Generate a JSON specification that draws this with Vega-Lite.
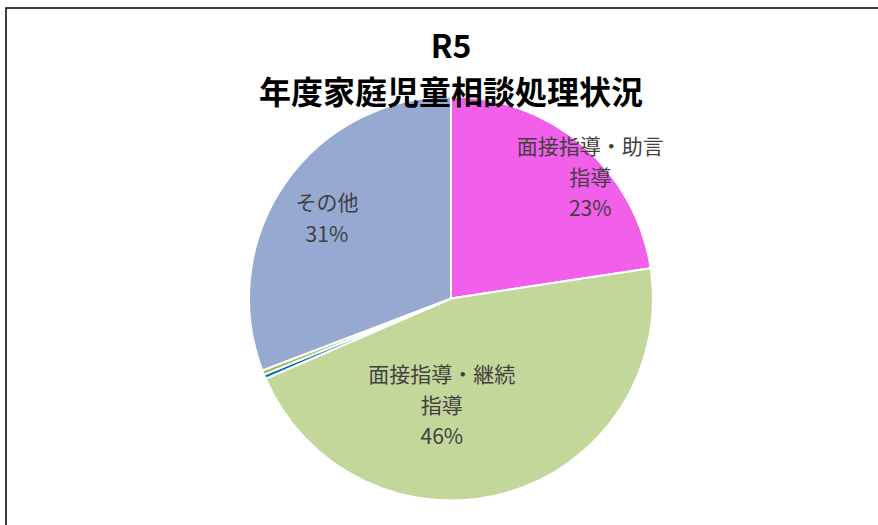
{
  "$schema": "https://vega.github.io/schema/vega-lite/v6.json",
  "autosize": "none",
  "width": 890,
  "height": 581,
  "padding": {"left": 6, "top": 8, "right": 0, "bottom": 0},
  "background": "white",
  "view": {"stroke": "#000000", "strokeWidth": 1.5, "fill": "white"},
  "config": {
    "font": "Noto Sans CJK JP"
  },
  "title": {
    "text": ["R5", "年度家庭児童相談処理状況"],
    "fontSize": 32,
    "fontWeight": "bold",
    "font": "Noto Sans CJK JP",
    "color": "#000000",
    "lineHeight": 46,
    "baseline": "top",
    "offset": -103,
    "anchor": "middle",
    "frame": "group"
  },
  "data": {
    "values": [
      {"category": "面接指導・助言指導", "label": "面接指導・助言\n指導\n23%", "value": 22.6, "n": 1},
      {"category": "面接指導・継続指導", "label": "面接指導・継続\n指導\n46%", "value": 45.9, "n": 2},
      {"category": "児童相談所送致", "label": "", "value": 0.35, "n": 3},
      {"category": "他機関送致", "label": "", "value": 0.35, "n": 4},
      {"category": "その他", "label": "その他\n31%", "value": 30.8, "n": 5}
    ]
  },
  "encoding": {
    "theta": {"field": "value", "type": "quantitative", "stack": true},
    "order": {"field": "n", "type": "quantitative"},
    "color": {
      "field": "category",
      "type": "nominal",
      "legend": null,
      "sort": null,
      "scale": {
        "domain": ["面接指導・助言指導", "面接指導・継続指導", "児童相談所送致", "他機関送致", "その他"],
        "range": ["#F25FEB", "#C4D79B", "#0070C0", "#9BBB59", "#95A9D1"]
      }
    }
  },
  "layer": [
    {"mark": {"type": "arc", "radius": 202, "stroke": "white", "strokeWidth": 2}},
    {
      "mark": {"type": "text", "radius": 160, "dx": 35, "dy": -29, "fontSize": 21, "lineHeight": 31, "lineBreak": "\n", "align": "center", "baseline": "middle"},
      "encoding": {
        "text": {"condition": {"test": "datum.n == 1", "field": "label"}, "value": ""},
        "color": {"value": "#404040"}
      }
    },
    {
      "mark": {"type": "text", "radius": 108, "dx": -39, "dy": -26, "fontSize": 21, "lineHeight": 31, "lineBreak": "\n", "align": "center", "baseline": "middle"},
      "encoding": {
        "text": {"condition": {"test": "datum.n == 2", "field": "label"}, "value": ""},
        "color": {"value": "#404040"}
      }
    },
    {
      "mark": {"type": "text", "radius": 147, "dx": -3, "dy": -11, "fontSize": 21, "lineHeight": 32, "lineBreak": "\n", "align": "center", "baseline": "middle"},
      "encoding": {
        "text": {"condition": {"test": "datum.n == 5", "field": "label"}, "value": ""},
        "color": {"value": "#404040"}
      }
    }
  ]
}
